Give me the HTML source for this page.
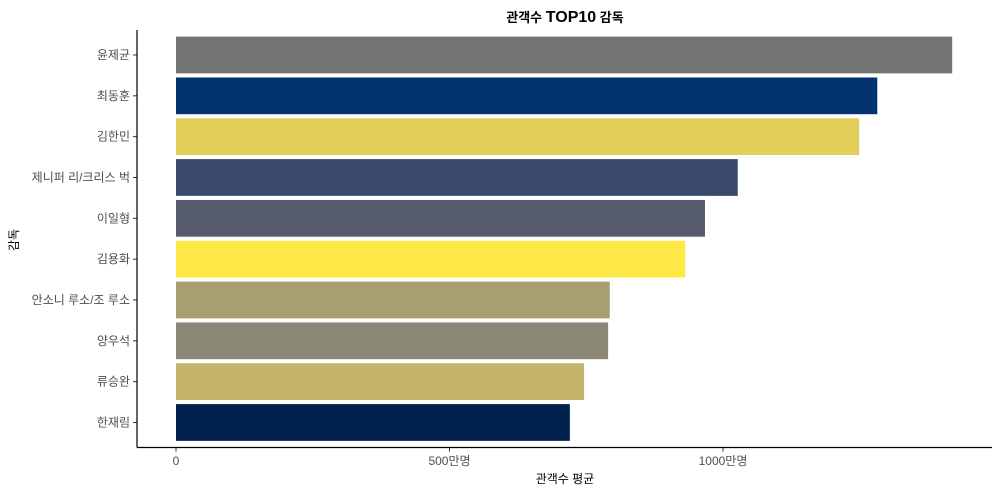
<!DOCTYPE html>
<html><head><meta charset="utf-8"><style>
body{margin:0;background:#fff;font-family:"Liberation Sans","Noto Sans CJK KR",sans-serif;}
svg text{font-family:"Liberation Sans","Noto Sans CJK KR",sans-serif;}
</style></head><body>
<svg id="chart" width="1000" height="493">
<text x="565" y="22" text-anchor="middle" font-size="13" font-weight="bold" fill="#000">관객수 <tspan font-size="16">TOP10</tspan> 감독</text>
<g id="bars"></g><g id="yticks"></g><g id="xticks"></g>
<line x1="137" y1="30" x2="137" y2="447.5" stroke="#000" stroke-width="1.2"/>
<line x1="137" y1="447.5" x2="992" y2="447.5" stroke="#000" stroke-width="1.2"/>
<text x="565" y="483" text-anchor="middle" font-size="12" fill="#000">관객수 평균</text>
<text transform="translate(18,240) rotate(-90)" text-anchor="middle" font-size="12" fill="#000">감독</text>
</svg>
<script>
const directors=["윤제균","최동훈","김한민","제니퍼 리/크리스 벅","이일형","김용화","안소니 루소/조 루소","양우석","류승완","한재림"];
const audience=[1419,1282,1249,1027,967,931,793,790,746,720];
const colors=["#737373","#03336f","#e2cf5a","#3a4a6b","#575d6d","#fee845","#a79e72","#8b8878","#c4b36a","#00204d"];
const xTicks=[0,500,1000];
const xTickLabels=["0","500만명","1000만명"];
const ns="http://www.w3.org/2000/svg";
const x=v=>176+v*0.547;
const band=40.83, y=i=>55+i*band;
function mk(t,a,p){const e=document.createElementNS(ns,t);for(const k in a)e.setAttribute(k,a[k]);p.appendChild(e);return e;}
const gb=document.getElementById('bars'),gy=document.getElementById('yticks'),gx=document.getElementById('xticks');
directors.forEach((d,i)=>{
 const r=mk('rect',{x:x(0),y:y(i)-band*0.45,width:x(audience[i])-x(0),height:band*0.9,fill:colors[i]},gb);
 
 
 const tl=mk('line',{x1:133,x2:137,y1:y(i),y2:y(i),stroke:'#333'},gy);
 
 
 const t=mk('text',{x:130,y:y(i)+4,'text-anchor':'end','font-size':'12',fill:'#4d4d4d'},gy);
 t.textContent=d;
 
 
});
xTicks.forEach((v,i)=>{
 const tl=mk('line',{x1:x(v),x2:x(v),y1:447.5,y2:451.5,stroke:'#333'},gx);
 
 
 const t=mk('text',{x:x(v),y:465,'text-anchor':'middle','font-size':'12',fill:'#4d4d4d'},gx);
 t.textContent=xTickLabels[i];
 
 
});
</script>
</body></html>
